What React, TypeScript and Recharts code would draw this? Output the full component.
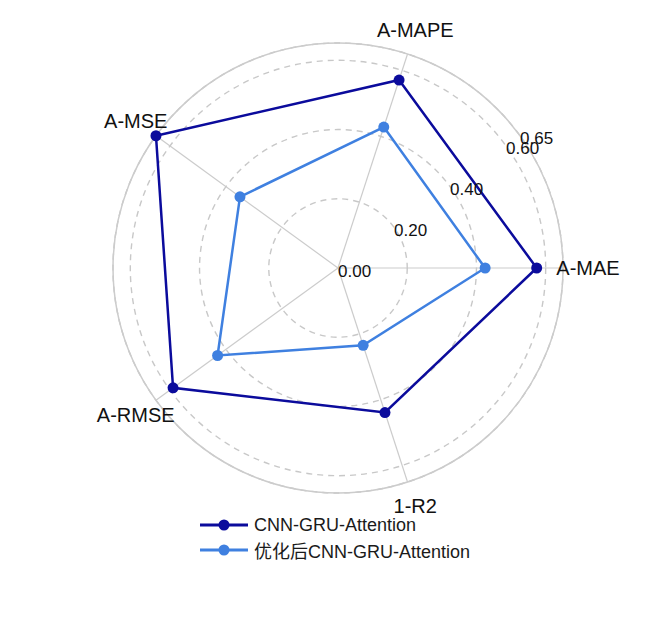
import React from 'react';
import { RadarChart, Radar, PolarGrid, PolarAngleAxis, PolarRadiusAxis, Legend } from 'recharts';

const metrics = ['A-MAE', 'A-MAPE', 'A-MSE', 'A-RMSE', '1-R2'];
const baseValues = [0.574, 0.571, 0.65, 0.589, 0.439];
const optimizedValues = [0.425, 0.428, 0.35, 0.43, 0.235];
const radiusTicks = [0, 0.2, 0.4, 0.6, 0.65];
const seriesNames = ['CNN-GRU-Attention', '优化后CNN-GRU-Attention'];
const seriesColors = ['#0b0b9c', '#3f80e0'];
// clockwise drawing order starting at A-MAPE
const drawOrder = [1, 0, 4, 3, 2];

const data = drawOrder.map((i) => ({ metric: metrics[i], base: baseValues[i], opt: optimizedValues[i] }));

const FONT = "'Liberation Sans', Arial, 'Noto Sans CJK SC', sans-serif";
const OUTER_R = 225;

const AngleTick = (props: any) => {
  const { x, y, payload } = props;
  return (
    <text x={x} y={y} textAnchor="middle" dominantBaseline="central" fontSize={20} fill="#111" fontFamily={FONT}>
      {payload.value}
    </text>
  );
};

const RadiusTick = (props: any) => {
  const { x, y, payload } = props;
  return (
    <text x={x} y={y} dy={3} textAnchor="start" dominantBaseline="central" fontSize={17} fill="#111" fontFamily={FONT}>
      {Number(payload.value).toFixed(2)}
    </text>
  );
};

const LegendContent = (props: any) => {
  const payload = props.payload || [];
  return (
    <div style={{ fontFamily: FONT }}>
      {payload.map((p: any) => (
        <div key={p.value} style={{ display: 'flex', alignItems: 'center', height: 25 }}>
          <svg width={48} height={14} style={{ display: 'block' }}>
            <line x1={0} y1={7} x2={48} y2={7} stroke={p.color} strokeWidth={3} />
            <circle cx={24} cy={7} r={5.5} fill={p.color} />
          </svg>
          <span style={{ marginLeft: 6, fontSize: 18, color: '#1a1a1a', whiteSpace: 'nowrap' }}>{p.value}</span>
        </div>
      ))}
    </div>
  );
};

export default function App() {
  return (
    <RadarChart width={634} height={600} data={data} cx={330} cy={260} outerRadius={OUTER_R} startAngle={72} endAngle={-288}>
      <PolarGrid gridType="circle" polarRadius={[0]} stroke="#cccccc" strokeWidth={1.2} fill="#fafafa" />
      <PolarGrid gridType="circle" radialLines={false} stroke="#c8c8c8" strokeWidth={1.4} strokeDasharray="6 5" />
      <PolarAngleAxis
        dataKey="metric"
        tick={<AngleTick />}
        tickLine={false}
        tickSize={25}
        axisLineType="circle"
        axisLine={{ stroke: '#cccccc', strokeWidth: 1.5 }}
      />
      <PolarRadiusAxis
        type="number"
        angle={36}
        domain={[0, 0.65]}
        allowDecimals
        ticks={radiusTicks}
        axisLine={false}
        tickLine={false}
        tick={<RadiusTick />}
      />
      <Radar
        name={seriesNames[0]}
        dataKey="base"
        stroke={seriesColors[0]}
        fill="none"
        fillOpacity={0}
        strokeWidth={2.5}
        dot={{ r: 5.5, fill: seriesColors[0], stroke: seriesColors[0], strokeWidth: 0, fillOpacity: 1 }}
        isAnimationActive={false}
      />
      <Radar
        name={seriesNames[1]}
        dataKey="opt"
        stroke={seriesColors[1]}
        fill="none"
        fillOpacity={0}
        strokeWidth={2.5}
        dot={{ r: 5.5, fill: seriesColors[1], stroke: seriesColors[1], strokeWidth: 0, fillOpacity: 1 }}
        isAnimationActive={false}
      />
      <Legend content={<LegendContent />} wrapperStyle={{ left: 192, top: 504.5, width: 'auto', bottom: 'auto' }} />
    </RadarChart>
  );
}
